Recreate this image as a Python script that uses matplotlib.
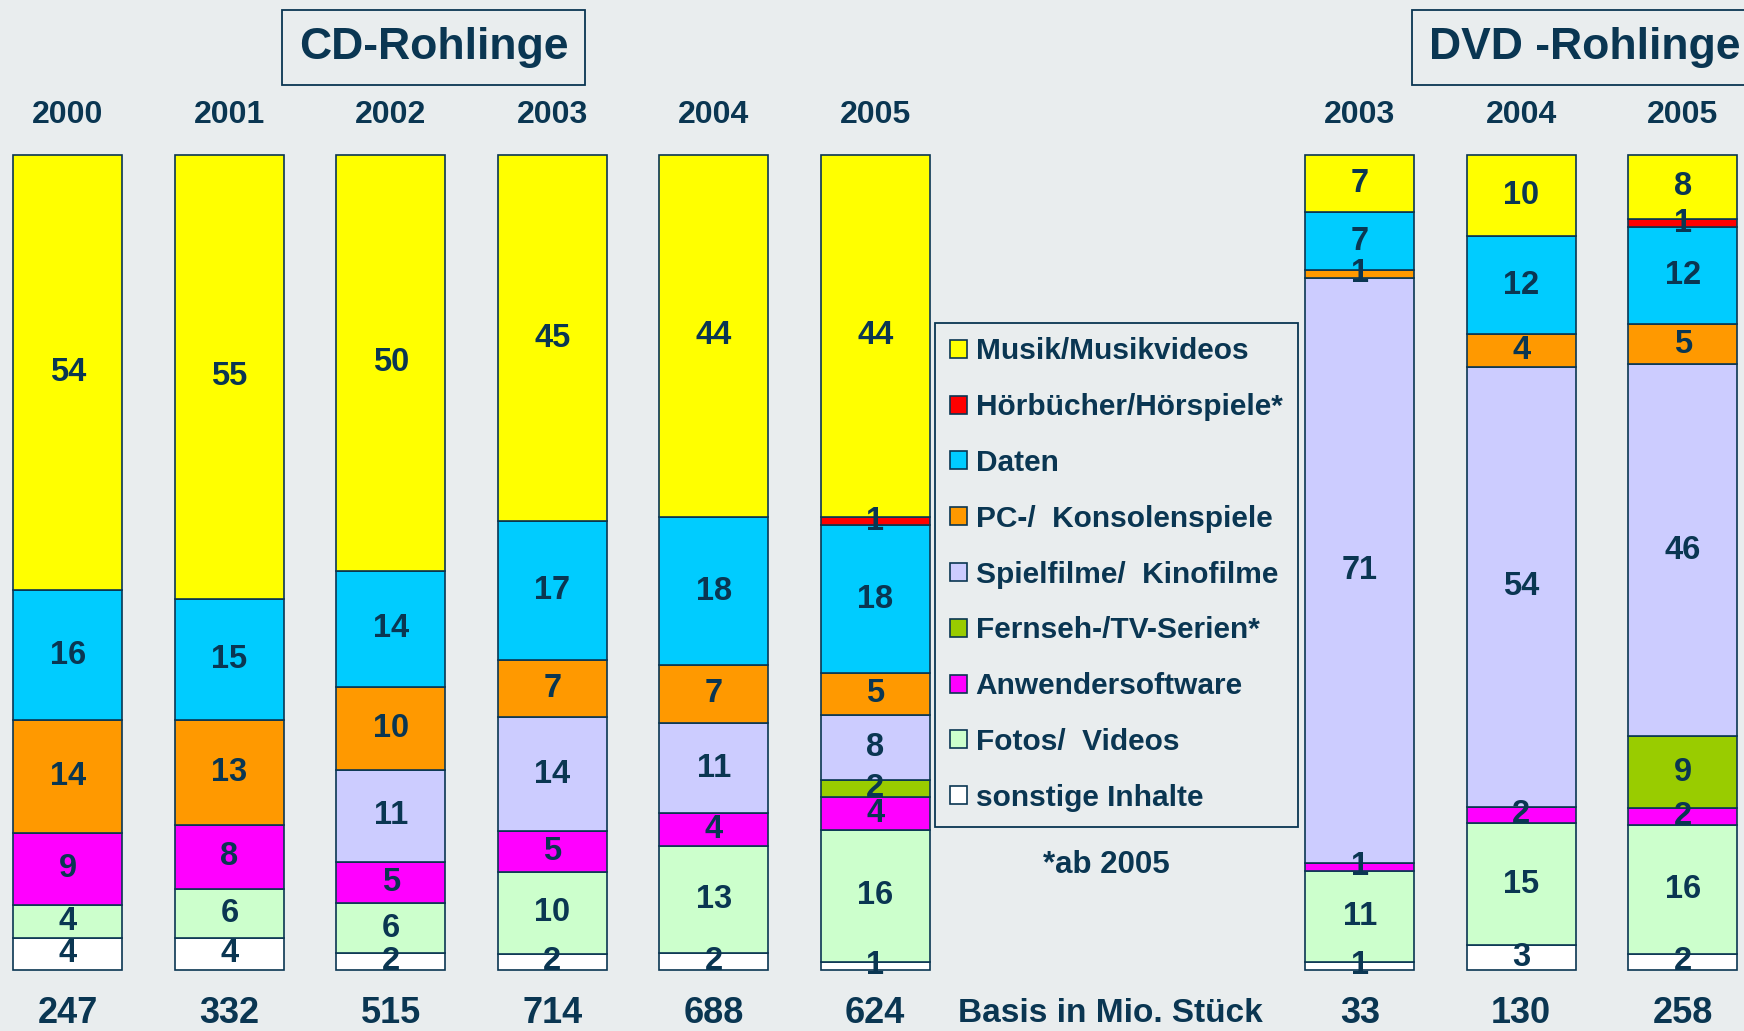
import matplotlib
matplotlib.use("Agg")
import matplotlib.pyplot as plt
import matplotlib.patches as mpatches
import numpy as np

# bars: CD 2000-2005, DVD 2003-2005
years = ["2000", "2001", "2002", "2003", "2004", "2005", "2003", "2004", "2005"]
basis = ["247", "332", "515", "714", "688", "624", "33", "130", "258"]
x_pos = [0, 1, 2, 3, 4, 5, 8, 9, 10]

categories = ["Musik/Musikvideos", "Hörbücher/Hörspiele*", "Daten",
              "PC-/  Konsolenspiele", "Spielfilme/  Kinofilme",
              "Fernseh-/TV-Serien*", "Anwendersoftware", "Fotos/  Videos",
              "sonstige Inhalte"]

musik       = [54, 55, 50, 45, 44, 44, 7, 10, 8]
hoerbuecher = [0, 0, 0, 0, 0, 1, 0, 0, 1]
daten       = [16, 15, 14, 17, 18, 18, 7, 12, 12]
pc_spiele   = [14, 13, 10, 7, 7, 5, 1, 4, 5]
spielfilme  = [0, 0, 11, 14, 11, 8, 71, 54, 46]
fernsehen   = [0, 0, 0, 0, 0, 2, 0, 0, 9]
anwender    = [9, 8, 5, 5, 4, 4, 1, 2, 2]
fotos       = [4, 6, 6, 10, 13, 16, 11, 15, 16]
sonstige    = [4, 4, 2, 2, 2, 1, 1, 3, 2]

series = [musik, hoerbuecher, daten, pc_spiele, spielfilme,
          fernsehen, anwender, fotos, sonstige]
colors = ["#FFFF00", "#FF0000", "#00CCFF", "#FF9900", "#CCCCFF",
          "#99CC00", "#FF00FF", "#CCFFCC", "#FFFFFF"]

BG = "#E9EDEE"
NAVY = "#0A3652"
FONT = "Liberation Sans"

vals = np.array(series, dtype=float)
totals = vals.sum(axis=0)
shares = vals / totals * 100  # bars are drawn to full height

fig = plt.figure(figsize=(17.44, 10.31), dpi=100, facecolor=BG)
ax = fig.add_axes([0, 0, 1, 1])
ax.set_facecolor(BG)
ax.set_xlim(-0.42, 10.379)
ax.set_ylim(-7.5, 118.96)
ax.axis("off")

width = 0.675
bottom = np.zeros(len(x_pos))
# stack from the bottom (sonstige) up to Musik
for i in range(len(series) - 1, -1, -1):
    h = shares[i]
    ax.bar(x_pos, h, width, bottom=bottom, color=colors[i],
           edgecolor=NAVY, linewidth=1.2, zorder=2)
    for j, x in enumerate(x_pos):
        if vals[i, j] > 0:
            ax.text(x, bottom[j] + h[j] / 2, str(int(vals[i, j])),
                    ha="center", va="center", fontsize=23.5, fontweight="bold",
                    color=NAVY, family=FONT, zorder=3)
    bottom = bottom + h

for x, y, b in zip(x_pos, years, basis):
    ax.text(x, 104.8, y, ha="center", va="center", fontsize=23,
            fontweight="bold", color=NAVY, family=FONT)
    ax.text(x, -5.4, b, ha="center", va="center", fontsize=26,
            fontweight="bold", color=NAVY, family=FONT)

ax.text(6.457, -5.4, "Basis in Mio. Stück", ha="center", va="center",
        fontsize=24, fontweight="bold", color=NAVY, family=FONT)
ax.text(6.43, 12.8, "*ab 2005", ha="center", va="center",
        fontsize=22.5, fontweight="bold", color=NAVY, family=FONT)

box = dict(boxstyle="square,pad=0.38", facecolor=BG, edgecolor=NAVY, linewidth=1.3)
ax.text(2.266, 113.1, "CD-Rohlinge", ha="center", va="center", fontsize=32,
        fontweight="bold", color=NAVY, family=FONT, bbox=box)
ax.text(8.43, 113.1, "DVD -Rohlinge", ha="left", va="center", fontsize=32,
        fontweight="bold", color=NAVY, family=FONT, bbox=box)

handles = [mpatches.Patch(facecolor=c, edgecolor=NAVY, linewidth=1.2, label=l)
           for c, l in zip(colors, categories)]
leg = fig.legend(handles=handles, loc="upper left",
                 bbox_to_anchor=(841 / 1568, 1 - 290 / 927),
                 borderaxespad=0, frameon=True, fancybox=False,
                 facecolor=BG, edgecolor=NAVY, framealpha=1,
                 prop={"family": FONT, "weight": "bold", "size": 21.5},
                 handlelength=0.55, handleheight=0.55, handletextpad=0.3,
                 labelspacing=0.93, borderpad=0.5)
leg.get_frame().set_linewidth(1.3)
for t in leg.get_texts():
    t.set_color(NAVY)

fig.savefig("out.png", dpi=100, facecolor=BG)
